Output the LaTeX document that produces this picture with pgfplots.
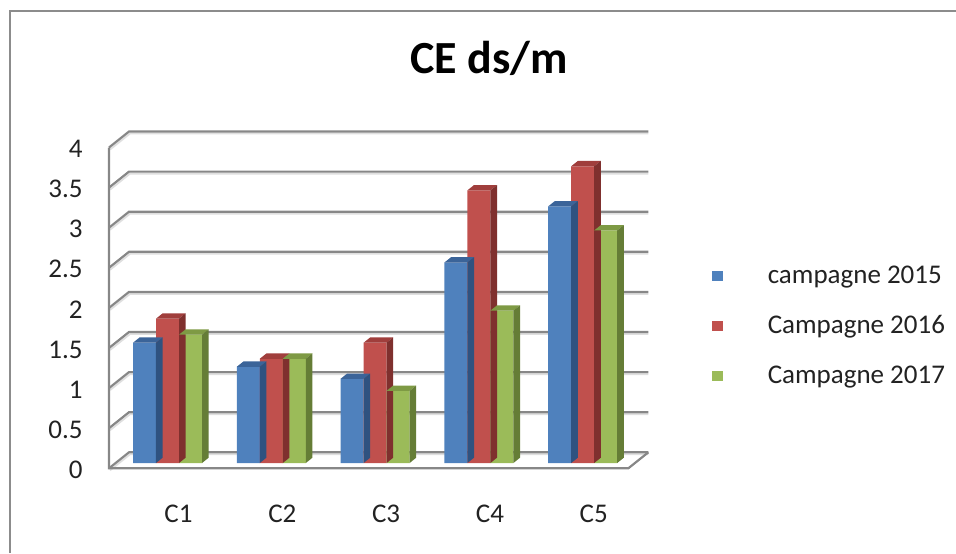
\documentclass[border=0pt]{standalone}
\usepackage{fontspec}
\setmainfont{Carlito}
\usepackage{pgfplots}
\usepackage{pgfplotstable}
\pgfplotsset{compat=1.18}

\definecolor{blueF}{HTML}{4F81BD}
\definecolor{blueT}{HTML}{3B6499}
\definecolor{blueS}{HTML}{2F5280}
\definecolor{redF}{HTML}{C0504D}
\definecolor{redT}{HTML}{A03E3C}
\definecolor{redS}{HTML}{7F302E}
\definecolor{greenF}{HTML}{9BBB59}
\definecolor{greenT}{HTML}{7E9A44}
\definecolor{greenS}{HTML}{657D36}
\definecolor{gridc}{HTML}{878787}
\definecolor{frame}{HTML}{8C8C8C}
\definecolor{txt}{HTML}{222222}

% CE values per site and campaign
\pgfplotstableread{
site a    b   c
C1   1.5  1.8 1.6
C2   1.2  1.3 1.3
C3   1.05 1.5 0.9
C4   2.5  3.4 1.9
C5   3.2  3.7 2.9
}\cedata

% top and side faces of a pseudo-3D column, drawn at the column's top centre
\pgfkeys{/bar3d/top/.initial=black, /bar3d/side/.initial=black}
\pgfdeclareplotmark{bar3d}{%
  \pgfmathsetmacro\hh{\barval*40.1}%
  \pgfsetfillcolor{\pgfkeysvalueof{/bar3d/top}}%
  \pgfpathmoveto{\pgfpoint{-5.75pt}{0pt}}%
  \pgfpathlineto{\pgfpoint{5.75pt}{0pt}}%
  \pgfpathlineto{\pgfpoint{9.05pt}{2.65pt}}%
  \pgfpathlineto{\pgfpoint{-2.45pt}{2.65pt}}%
  \pgfpathclose
  \pgfusepath{fill}%
  \pgfsetfillcolor{\pgfkeysvalueof{/bar3d/side}}%
  \pgfpathmoveto{\pgfpoint{5.75pt}{0pt}}%
  \pgfpathlineto{\pgfpoint{9.05pt}{2.65pt}}%
  \pgfpathlineto{\pgfpoint{9.05pt}{2.65pt-\hh pt}}%
  \pgfpathlineto{\pgfpoint{5.75pt}{-\hh pt}}%
  \pgfpathclose
  \pgfusepath{fill}%
}

\pgfplotsset{
  faces/.style n args={3}{
    forget plot, only marks, mark=bar3d, scatter,
    scatter/@pre marker code/.code={},
    scatter/@post marker code/.code={},
    visualization depends on={\thisrow{#1} \as \barval},
    /bar3d/top=#2, /bar3d/side=#3,
  },
  col/.style n args={2}{
    ybar, bar width=11.5pt, bar shift=#2, fill=#1, draw=none,
    legend image code/.code={\fill[#1] (0pt,-2.6pt) rectangle (5.2pt,2.6pt);},
  },
}

\begin{document}
\begin{tikzpicture}
\useasboundingbox (0,0) rectangle (478pt,-276.5pt);
% chart frame
\draw[frame, line width=1.2pt] (5pt,-276.5pt) -- (5pt,-5.5pt) -- (478pt,-5.5pt);
\node[font=\bfseries\fontsize{23}{27}\selectfont, anchor=base, text=black]
  at (244.5pt,-36.65pt) {CE ds/m};

% walls and floor of the 3-D box
\begin{scope}[x=0.5pt, y=-0.5pt]
  \foreach \v in {0,0.5,...,4} {
    \draw[gray!25, line width=0.9pt] (110,{470.3-80.2*\v}) -- (130,{454.3-80.2*\v}) -- (648.3,{454.3-80.2*\v});
    \draw[gridc, line width=1.1pt] (109,{468.3-80.2*\v}) -- (129,{452.3-80.2*\v}) -- (648.3,{452.3-80.2*\v});
  }
  \draw[gridc, line width=1.1pt] (109,147.5) -- (109,468.3) -- (628.3,468.3) -- (648.3,452.3);
\end{scope}

\begin{axis}[
  at={(57.8pt,-231.5pt)}, anchor=south west,
  scale only axis, width=259.5pt, height=160.4pt,
  xmin=-0.5, xmax=4.5, ymin=0, ymax=4,
  clip=false,
  axis line style={draw=none}, tick style={draw=none}, major tick length=0pt,
  xtick={0,...,4}, xticklabels={C1,C2,C3,C4,C5},
  ytick={0,0.5,...,4},
  xticklabel style={anchor=center, xshift=5.5pt, yshift=-25.5pt},
  yticklabel style={anchor=east, inner sep=0pt, xshift=-16.3pt, yshift=-3.4pt},
  /pgf/number format/assume math mode=true,
  ticklabel style={font=\fontsize{13.5}{16}\selectfont, text=txt},
  legend style={at={(1.1491,0.4271)}, anchor=west, draw=none, fill=none,
    inner sep=0pt, row sep=14.5pt, font=\fontsize{13.5}{16}\selectfont, text=txt,
    nodes={inner sep=0pt},
    /tikz/every odd column/.style={column sep=22.5pt}},
  legend cell align=left,
]
\addplot[col={blueF}{-11.5pt}] table[x expr=\coordindex, y=a] {\cedata};
\addlegendentry{campagne 2015}
\addplot[faces={a}{blueT}{blueS}] table[x expr=\coordindex-0.2216, y=a] {\cedata};
\addplot[col={redF}{0pt}] table[x expr=\coordindex, y=b] {\cedata};
\addlegendentry{Campagne 2016}
\addplot[faces={b}{redT}{redS}] table[x expr=\coordindex, y=b] {\cedata};
\addplot[col={greenF}{11.5pt}] table[x expr=\coordindex, y=c] {\cedata};
\addlegendentry{Campagne 2017}
\addplot[faces={c}{greenT}{greenS}] table[x expr=\coordindex+0.2216, y=c] {\cedata};
\end{axis}
\end{tikzpicture}
\end{document}
